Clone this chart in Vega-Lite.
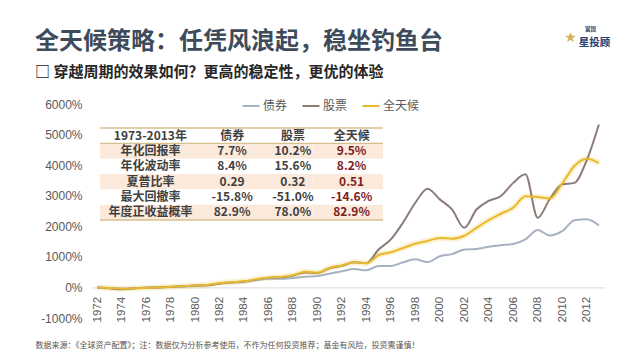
{
  "$schema": "https://vega.github.io/schema/vega-lite/v6.json",
  "width": 514,
  "height": 214,
  "autosize": {"type": "none"},
  "padding": {"left": 91, "top": 104, "right": 35, "bottom": 42},
  "background": "white",
  "config": {"view": {"stroke": null}, "font": "Noto Sans CJK SC"},
  "title": {
    "text": "全天候策略：任凭风浪起，稳坐钓鱼台",
    "subtitle": "□ 穿越周期的效果如何？更高的稳定性，更优的体验",
    "anchor": "start",
    "frame": "bounds",
    "font": "Noto Sans CJK SC",
    "fontSize": 24,
    "fontWeight": "bold",
    "color": "#3d4b5b",
    "subtitleFont": "Noto Sans CJK SC",
    "subtitleFontSize": 15,
    "subtitleFontWeight": "bold",
    "subtitleColor": "#262626",
    "subtitlePadding": 11,
    "offset": -54
  },
  "datasets": {
    "series": [
      {"year":1972,"asset":"债券","pct":0},{"year":1973,"asset":"债券","pct":-20},{"year":1974,"asset":"债券","pct":-40},{"year":1975,"asset":"债券","pct":-30},{"year":1976,"asset":"债券","pct":-10},{"year":1977,"asset":"债券","pct":0},{"year":1978,"asset":"债券","pct":10},{"year":1979,"asset":"债券","pct":30},{"year":1980,"asset":"债券","pct":50},{"year":1981,"asset":"债券","pct":70},{"year":1982,"asset":"债券","pct":120},{"year":1983,"asset":"债券","pct":150},{"year":1984,"asset":"债券","pct":180},{"year":1985,"asset":"债券","pct":240},{"year":1986,"asset":"债券","pct":280},{"year":1987,"asset":"债券","pct":280},{"year":1988,"asset":"债券","pct":310},{"year":1989,"asset":"债券","pct":350},{"year":1990,"asset":"债券","pct":370},{"year":1991,"asset":"债券","pct":450},{"year":1992,"asset":"债券","pct":530},{"year":1993,"asset":"债券","pct":600},{"year":1994,"asset":"债券","pct":560},{"year":1995,"asset":"债券","pct":700},{"year":1996,"asset":"债券","pct":700},{"year":1997,"asset":"债券","pct":820},{"year":1998,"asset":"债券","pct":920},{"year":1999,"asset":"债券","pct":830},{"year":2000,"asset":"债券","pct":1020},{"year":2001,"asset":"债券","pct":1090},{"year":2002,"asset":"债券","pct":1240},{"year":2003,"asset":"债券","pct":1260},{"year":2004,"asset":"债券","pct":1330},{"year":2005,"asset":"债券","pct":1380},{"year":2006,"asset":"债券","pct":1420},{"year":2007,"asset":"债券","pct":1570},{"year":2008,"asset":"债券","pct":1880},{"year":2009,"asset":"债券","pct":1700},{"year":2010,"asset":"债券","pct":1840},{"year":2011,"asset":"债券","pct":2200},{"year":2012,"asset":"债券","pct":2230},{"year":2013,"asset":"债券","pct":2030},
      {"year":1972,"asset":"股票","pct":0},{"year":1973,"asset":"股票","pct":-30},{"year":1974,"asset":"股票","pct":-60},{"year":1975,"asset":"股票","pct":-30},{"year":1976,"asset":"股票","pct":-10},{"year":1977,"asset":"股票","pct":0},{"year":1978,"asset":"股票","pct":20},{"year":1979,"asset":"股票","pct":40},{"year":1980,"asset":"股票","pct":60},{"year":1981,"asset":"股票","pct":70},{"year":1982,"asset":"股票","pct":130},{"year":1983,"asset":"股票","pct":170},{"year":1984,"asset":"股票","pct":190},{"year":1985,"asset":"股票","pct":260},{"year":1986,"asset":"股票","pct":320},{"year":1987,"asset":"股票","pct":330},{"year":1988,"asset":"股票","pct":390},{"year":1989,"asset":"股票","pct":490},{"year":1990,"asset":"股票","pct":470},{"year":1991,"asset":"股票","pct":630},{"year":1992,"asset":"股票","pct":710},{"year":1993,"asset":"股票","pct":820},{"year":1994,"asset":"股票","pct":790},{"year":1995,"asset":"股票","pct":1240},{"year":1996,"asset":"股票","pct":1570},{"year":1997,"asset":"股票","pct":2120},{"year":1998,"asset":"股票","pct":2770},{"year":1999,"asset":"股票","pct":3230},{"year":2000,"asset":"股票","pct":2880},{"year":2001,"asset":"股票","pct":2550},{"year":2002,"asset":"股票","pct":1950},{"year":2003,"asset":"股票","pct":2550},{"year":2004,"asset":"股票","pct":2830},{"year":2005,"asset":"股票","pct":2990},{"year":2006,"asset":"股票","pct":3420},{"year":2007,"asset":"股票","pct":3700},{"year":2008,"asset":"股票","pct":2280},{"year":2009,"asset":"股票","pct":2900},{"year":2010,"asset":"股票","pct":3370},{"year":2011,"asset":"股票","pct":3420},{"year":2012,"asset":"股票","pct":4150},{"year":2013,"asset":"股票","pct":5330},
      {"year":1972,"asset":"全天候","pct":0},{"year":1973,"asset":"全天候","pct":-20},{"year":1974,"asset":"全天候","pct":-45},{"year":1975,"asset":"全天候","pct":-30},{"year":1976,"asset":"全天候","pct":-15},{"year":1977,"asset":"全天候","pct":0},{"year":1978,"asset":"全天候","pct":20},{"year":1979,"asset":"全天候","pct":40},{"year":1980,"asset":"全天候","pct":60},{"year":1981,"asset":"全天候","pct":80},{"year":1982,"asset":"全天候","pct":140},{"year":1983,"asset":"全天候","pct":170},{"year":1984,"asset":"全天候","pct":200},{"year":1985,"asset":"全天候","pct":270},{"year":1986,"asset":"全天候","pct":320},{"year":1987,"asset":"全天候","pct":340},{"year":1988,"asset":"全天候","pct":400},{"year":1989,"asset":"全天候","pct":510},{"year":1990,"asset":"全天候","pct":480},{"year":1991,"asset":"全天候","pct":640},{"year":1992,"asset":"全天候","pct":720},{"year":1993,"asset":"全天候","pct":820},{"year":1994,"asset":"全天候","pct":790},{"year":1995,"asset":"全天候","pct":1060},{"year":1996,"asset":"全天候","pct":1150},{"year":1997,"asset":"全天候","pct":1290},{"year":1998,"asset":"全天候","pct":1430},{"year":1999,"asset":"全天候","pct":1520},{"year":2000,"asset":"全天候","pct":1620},{"year":2001,"asset":"全天候","pct":1590},{"year":2002,"asset":"全天候","pct":1690},{"year":2003,"asset":"全天候","pct":1950},{"year":2004,"asset":"全天候","pct":2200},{"year":2005,"asset":"全天候","pct":2410},{"year":2006,"asset":"全天候","pct":2610},{"year":2007,"asset":"全天候","pct":2980},{"year":2008,"asset":"全天候","pct":2960},{"year":2009,"asset":"全天候","pct":2910},{"year":2010,"asset":"全天候","pct":3400},{"year":2011,"asset":"全天候","pct":3970},{"year":2012,"asset":"全天候","pct":4210},{"year":2013,"asset":"全天候","pct":4070}
    ],
    "table": [
      {"指标":"1973-2013年","债券":"债券","股票":"股票","全天候":"全天候"},
      {"指标":"年化回报率","债券":"7.7%","股票":"10.2%","全天候":"9.5%"},
      {"指标":"年化波动率","债券":"8.4%","股票":"15.6%","全天候":"8.2%"},
      {"指标":"夏普比率","债券":"0.29","股票":"0.32","全天候":"0.51"},
      {"指标":"最大回撤率","债券":"-15.8%","股票":"-51.0%","全天候":"-14.6%"},
      {"指标":"年度正收益概率","债券":"82.9%","股票":"78.0%","全天候":"82.9%"}
    ]
  },
  "layer": [
    {
      "data": {"name": "series"},
      "encoding": {
        "x": {
          "field": "year", "type": "quantitative",
          "scale": {"domain": [1971.5, 2013.5], "nice": false, "zero": false},
          "axis": {
            "values": [1972,1974,1976,1978,1980,1982,1984,1986,1988,1990,1992,1994,1996,1998,2000,2002,2004,2006,2008,2010,2012],
            "format": "d", "labelAngle": 270, "labelAlign": "right", "labelBaseline": "middle",
            "labelFlush": false, "labelOverlap": false, "ticks": false, "labelPadding": 9,
            "offset": -30.6, "domainColor": "#d9d9d9", "grid": false,
            "labelFont": "Liberation Sans", "labelFontSize": 11.5, "labelColor": "#595959",
            "title": "数据来源：《全球资产配置》；注：数据仅为分析参考使用，不作为任何投资推荐；基金有风险，投资需谨慎！",
            "titleAnchor": "start", "titleAlign": "left", "titleBaseline": "middle",
            "titleX": -56, "titleY": 58, "titleFontSize": 8, "titleFontWeight": "normal", "titleColor": "#555555",
            "titleFont": "Noto Sans CJK SC"
          }
        },
        "y": {
          "field": "pct", "type": "quantitative",
          "scale": {"domain": [-1000, 6000], "nice": false},
          "axis": {
            "values": [-1000,0,1000,2000,3000,4000,5000,6000],
            "labelExpr": "datum.value + '%'",
            "domain": false, "ticks": false, "grid": false, "labelPadding": 9,
            "labelFont": "Liberation Sans", "labelFontSize": 12, "labelColor": "#595959",
            "title": "富国", "titleAngle": 0, "titleX": 499, "titleY": -76,
            "titleFontSize": 5.5, "titleColor": "#2b3c6e", "titleFontWeight": "bold", "titleAlign": "center", "titleBaseline": "middle"
          }
        }
      },
      "layer": [
        {
          "transform": [{"filter": "datum.asset === '全天候'"}],
          "mark": {"type": "line", "interpolate": "monotone", "strokeWidth": 6, "opacity": 0.3, "color": "#f3d46c"}
        },
        {
          "mark": {"type": "line", "interpolate": "monotone", "strokeWidth": 2},
          "encoding": {
            "color": {
              "field": "asset", "type": "nominal",
              "scale": {"domain": ["债券", "股票", "全天候"], "range": ["#a7b1c3", "#8c7c78", "#eab92b"]},
              "legend": {
                "orient": "none", "legendX": 150, "legendY": -8, "direction": "horizontal", "title": null,
                "symbolType": "stroke", "symbolSize": 290, "symbolStrokeWidth": 2,
                "labelFont": "Noto Sans CJK SC", "labelFontSize": 12, "labelColor": "#595959",
                "labelOffset": 2, "columnPadding": 10
              }
            }
          }
        }
      ]
    },
    {
      "data": {"name": "table"},
      "transform": [{"fold": ["指标", "债券", "股票", "全天候"], "as": ["col", "cell"]}],
      "encoding": {
        "x": {
          "field": "col", "type": "nominal",
          "scale": {"domain": ["指标", "债券", "股票", "全天候"], "paddingInner": 0, "paddingOuter": 0, "range": [9, 292]},
          "axis": {
            "labels": false, "ticks": false, "domain": false, "grid": false,
            "title": "★", "titleX": 479, "titleY": -67, "titleColor": "#d6b15c", "titleFontSize": 14,
            "titleAlign": "center", "titleBaseline": "middle", "titleFont": "DejaVu Sans"
          }
        },
        "y": {
          "field": "指标", "type": "nominal", "sort": null,
          "scale": {"domain": ["1973-2013年", "年化回报率", "年化波动率", "夏普比率", "最大回撤率", "年度正收益概率"], "paddingInner": 0, "paddingOuter": 0, "range": [24, 116]},
          "axis": {
            "labels": false, "ticks": false, "domain": false, "grid": false,
            "title": "星投顾", "titleAngle": 0, "titleX": -11, "titleY": -62, "titleColor": "#2b3c6e",
            "titleFontSize": 10.5, "titleFontWeight": "bold", "titleAlign": "center", "titleBaseline": "middle",
            "titleFont": "Noto Sans CJK SC"
          }
        }
      },
      "layer": [
        {
          "transform": [{"filter": {"field": "指标", "oneOf": ["年化回报率", "夏普比率", "年度正收益概率"]}}],
          "mark": {"type": "rect", "color": "#fbeadc"}
        },
        {
          "transform": [{"filter": {"field": "指标", "oneOf": ["1973-2013年", "年化回报率"]}}],
          "mark": {"type": "rule", "color": "#d7bf8f", "strokeWidth": 1.3},
          "encoding": {
            "x": {"field": "col", "type": "nominal", "bandPosition": 0},
            "x2": {"field": "col", "bandPosition": 1},
            "y": {"field": "指标", "type": "nominal", "bandPosition": 0}
          }
        },
        {
          "transform": [{"filter": {"field": "指标", "equal": "年度正收益概率"}}],
          "mark": {"type": "rule", "color": "#d7bf8f", "strokeWidth": 1.3},
          "encoding": {
            "x": {"field": "col", "type": "nominal", "bandPosition": 0},
            "x2": {"field": "col", "bandPosition": 1},
            "y": {"field": "指标", "type": "nominal", "bandPosition": 1}
          }
        },
        {
          "transform": [{"filter": "datum.col === '指标'"}],
          "mark": {"type": "text", "fontSize": 12, "fontWeight": "bold", "color": "#3f3f3f", "dx": 15},
          "encoding": {"text": {"field": "cell"}}
        },
        {
          "transform": [{"filter": "datum.col === '债券'"}],
          "mark": {"type": "text", "fontSize": 12, "fontWeight": "bold", "color": "#3f3f3f", "dx": 26},
          "encoding": {"text": {"field": "cell"}}
        },
        {
          "transform": [{"filter": "datum.col === '股票'"}],
          "mark": {"type": "text", "fontSize": 12, "fontWeight": "bold", "color": "#3f3f3f", "dx": 16},
          "encoding": {"text": {"field": "cell"}}
        },
        {
          "transform": [{"filter": "datum.col === '全天候'"}],
          "mark": {"type": "text", "fontSize": 12, "fontWeight": "bold", "dx": 4},
          "encoding": {
            "text": {"field": "cell"},
            "color": {"condition": {"test": "datum['指标'] !== '1973-2013年'", "value": "#7e1d1d"}, "value": "#3f3f3f"}
          }
        }
      ]
    }
  ],
  "resolve": {
    "scale": {"x": "independent", "y": "independent", "color": "independent"},
    "axis": {"x": "independent", "y": "independent"}
  }
}
